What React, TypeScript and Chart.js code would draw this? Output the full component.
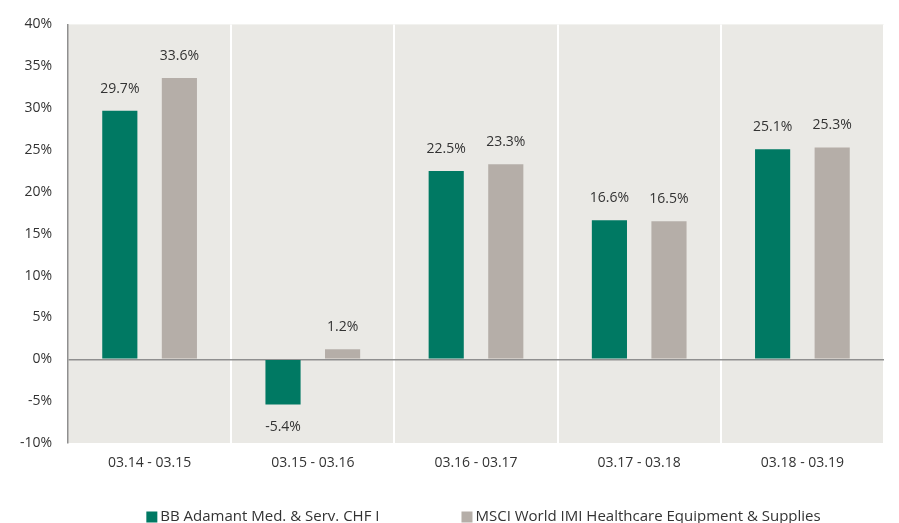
import React, { useEffect, useRef } from "react";
import { Chart, registerables } from "chart.js";

Chart.register(...registerables);

const categories = ["03.14 - 03.15", "03.15 - 03.16", "03.16 - 03.17", "03.17 - 03.18", "03.18 - 03.19"];
const fundLabel = "BB Adamant Med. & Serv. CHF I";
const fundValues = [29.7, -5.4, 22.5, 16.6, 25.1];
const indexLabel = "MSCI World IMI Healthcare Equipment & Supplies";
const indexValues = [33.6, 1.2, 23.3, 16.5, 25.3];

const FONT = "'Open Sans', 'Noto Sans', sans-serif";
const TEXT = "#333333";

const bgPlugin = {
  id: "plotBg",
  beforeDraw(chart: any) {
    const { ctx, chartArea } = chart;
    ctx.save();
    ctx.fillStyle = "#EAE9E5";
    ctx.fillRect(chartArea.left, chartArea.top, chartArea.right - chartArea.left, chartArea.bottom - chartArea.top);
    ctx.restore();
  },
};

const valueLabels = {
  id: "valueLabels",
  afterDatasetsDraw(chart: any) {
    const { ctx } = chart;
    ctx.save();
    ctx.font = `14px ${FONT}`;
    ctx.fillStyle = TEXT;
    ctx.textAlign = "center";
    ctx.textBaseline = "middle";
    chart.data.datasets.forEach((ds: any, di: number) => {
      const meta = chart.getDatasetMeta(di);
      meta.data.forEach((el: any, i: number) => {
        const v = ds.data[i];
        const y = v >= 0 ? el.y - 22 : el.y + 23;
        ctx.fillText(v.toFixed(1) + "%", el.x, y);
      });
    });
    ctx.restore();
  },
};

const legendPlugin = {
  id: "customLegend",
  afterDraw(chart: any) {
    const { ctx } = chart;
    ctx.save();
    ctx.font = `15px ${FONT}`;
    ctx.textBaseline = "middle";
    ctx.textAlign = "left";
    const box = 11;
    const gapText = 3;
    const gapItems = 82;
    const items = chart.data.datasets.map((ds: any) => ({
      label: ds.label,
      color: ds.backgroundColor,
      w: box + gapText + ctx.measureText(ds.label).width,
    }));
    const total = items.reduce((s: number, it: any) => s + it.w, 0) + gapItems * (items.length - 1);
    let x = 483.5 - total / 2;
    const cy = 517;
    items.forEach((it: any) => {
      ctx.fillStyle = it.color;
      ctx.fillRect(x, cy - box / 2, box, box);
      ctx.fillStyle = TEXT;
      ctx.fillText(it.label, x + box + gapText, cy);
      x += it.w + gapItems;
    });
    ctx.restore();
  },
};

export default function App() {
  const ref = useRef<HTMLCanvasElement>(null);
  useEffect(() => {
    if (!ref.current) return;
    const chart = new Chart(ref.current, {
      type: "bar",
      data: {
        labels: categories,
        datasets: [
          { label: fundLabel, data: fundValues, backgroundColor: "#007963" },
          { label: indexLabel, data: indexValues, backgroundColor: "#B5AEA8" },
        ],
      },
      plugins: [bgPlugin, valueLabels, legendPlugin],
      options: {
        animation: false,
        responsive: false,
        maintainAspectRatio: false,
        layout: { padding: { top: 23, right: 15, bottom: 52, left: 0 } },
        plugins: { legend: { display: false }, tooltip: { enabled: false } },
        datasets: { bar: { categoryPercentage: 0.73, barPercentage: 0.59 } },
        scales: {
          x: {
            grid: {
              offset: true,
              drawTicks: false,
              color: (c: any) => (c.index === 0 ? "rgba(0,0,0,0)" : "#FFFFFF"),
              lineWidth: 2,
            },
            border: { display: false },
            ticks: { color: TEXT, font: { family: FONT, size: 14 }, padding: 12 },
            afterFit: (s: any) => {
              s.height = 40;
            },
          },
          y: {
            min: -10,
            max: 40,
            grid: {
              drawTicks: false,
              color: (c: any) => (c.tick && c.tick.value === 0 ? "#8F8F8F" : "rgba(0,0,0,0)"),
              lineWidth: 1.5,
            },
            border: { display: true, color: "#8F8F8F", width: 1.5 },
            ticks: {
              stepSize: 5,
              color: TEXT,
              font: { family: FONT, size: 14 },
              padding: 16,
              callback: (v: any) => v + "%",
            },
            afterFit: (s: any) => {
              s.width = 68;
            },
          },
        },
      },
    });
    return () => chart.destroy();
  }, []);
  return (
    <div style={{ position: "fixed", left: 0, top: 0, width: 899, height: 535, background: "#fff" }}>
      <canvas ref={ref} width={899} height={535} style={{ display: "block" }} />
    </div>
  );
}
